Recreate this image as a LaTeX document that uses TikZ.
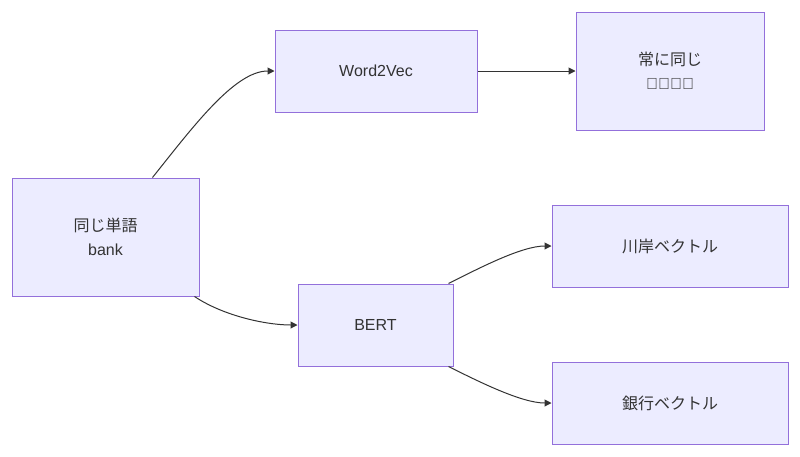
\documentclass[tikz,border=0pt]{standalone}
\usepackage{fontspec}
\setmainfont{Liberation Sans}
\newfontfamily\cjk{Noto Sans CJK JP}
\usetikzlibrary{arrows.meta}
\definecolor{nfill}{HTML}{ECECFF}
\definecolor{nline}{HTML}{9370DB}
\definecolor{txt}{HTML}{333333}
\begin{document}
\begin{tikzpicture}[x=1pt,y=-1pt,
  box/.style={draw=nline,fill=nfill,line width=1pt,text=txt,font=\fontsize{16}{24}\selectfont,align=center,inner sep=0pt,minimum width=#1},
  arr/.style={draw=txt,line width=1pt,-{Triangle[length=7pt,width=7pt]}}]
\useasboundingbox (0,0) rectangle (800,456);
\node[box=187pt,minimum height=118pt] (A) at (105.5,237) {{\cjk 同じ単語}\\bank};
\node[box=202pt,minimum height=82pt] (W) at (376,71) {Word2Vec};
\node[box=188pt,minimum height=118pt] (C) at (670,71) {\cjk 常に同じ\\ベクトル};
\node[box=155pt,minimum height=82pt] (B) at (375.5,325) {BERT};
\node[box=236pt,minimum height=82pt] (R) at (670,246) {\cjk 川岸ベクトル};
\node[box=236pt,minimum height=82pt] (G) at (670,403) {\cjk 銀行ベクトル};
\draw[arr] ([xshift=-47pt]A.north east) .. controls +(40,-50) and +(-40,0) .. (W.west);
\draw[arr] ([xshift=-5pt]A.south east) .. controls +(30,20) and +(-30,0) .. (B.west);
\draw[arr] (W.east) -- (C.west);
\draw[arr] ([xshift=-5pt]B.north east) .. controls +(30,-15) and +(-30,0) .. (R.west);
\draw[arr] ([xshift=-5pt]B.south east) .. controls +(30,15) and +(-30,0) .. (G.west);
\end{tikzpicture}
\end{document}
